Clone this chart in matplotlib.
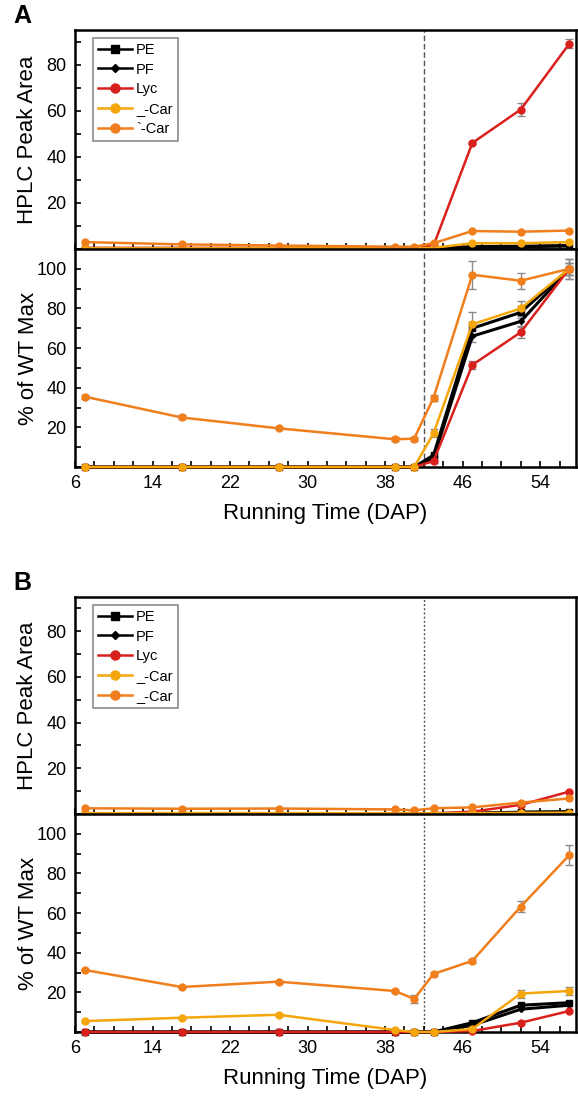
import numpy as np
import matplotlib.pyplot as plt
from matplotlib.ticker import MultipleLocator

plt.rcParams['font.family'] = ['Liberation Sans', 'DejaVu Sans']

# sampling days (DAP)
days = [7, 17, 27, 39, 41, 43, 47, 52, 57]
names = ['PE', 'PF', 'Lyc', '_-Car', '`-Car']
names_b = ['PE', 'PF', 'Lyc', '_-Car', '_-Car']

# panel A, HPLC peak area
a_pe = [0.2, 0.2, 0.2, 0.2, 0.2, 0.3, 1.0, 1.2, 1.5]
a_pf = [0.2, 0.2, 0.2, 0.2, 0.2, 0.3, 0.8, 1.0, 1.3]
a_lyc = [0.5, 0.5, 0.5, 0.5, 0.5, 1.5, 46, 60.5, 89]
a_zcar = [0.3, 0.3, 0.3, 0.3, 0.3, 0.5, 2.5, 2.5, 3.0]
a_bcar = [3.0, 2.0, 1.5, 1.0, 1.0, 2.5, 7.8, 7.5, 8.0]
a_lyc_err = [0, 0, 0, 0, 0, 0, 0.5, 3, 2]

# panel A, % of WT max
a_pe_pct = [0, 0, 0, 0, 0, 6, 70, 78, 100]
a_pf_pct = [0, 0, 0, 0, 0, 4.5, 66, 73.5, 100]
a_lyc_pct = [0, 0, 0, 0, 0, 3, 51.5, 68, 100]
a_zcar_pct = [0, 0, 0, 0, 0, 17, 72, 80, 100]
a_bcar_pct = [35.5, 25, 19.5, 14, 14.3, 35, 97, 94, 100]
a_pe_err = [0, 0, 0, 0, 0, 1, 3, 3, 3]
a_pf_err = [0, 0, 0, 0, 0, 1, 3, 3, 3]
a_lyc_pct_err = [0, 0, 0, 0, 0, 1, 2, 3, 5]
a_zcar_err = [0, 0, 0, 0, 0, 2, 6, 4, 3]
a_bcar_err = [1, 1, 0.5, 1, 1, 1.5, 7, 4, 5]

# panel B, HPLC peak area
b_pe = [0.2, 0.2, 0.2, 0.2, 0.2, 0.2, 0.3, 0.8, 1.0]
b_pf = [0.2, 0.2, 0.2, 0.2, 0.2, 0.2, 0.3, 0.7, 0.9]
b_lyc = [0.2, 0.2, 0.2, 0.2, 0.2, 0.3, 1.0, 4.0, 9.8]
b_zcar = [0.4, 0.4, 0.4, 0.3, 0.3, 0.3, 0.4, 0.5, 0.6]
b_bcar = [2.5, 2.3, 2.4, 2.0, 1.6, 2.5, 2.9, 5.0, 6.8]

# panel B, % of WT max
b_pe_pct = [0, 0, 0, 0, 0, 0, 4.7, 13.5, 14.8]
b_pf_pct = [0, 0, 0, 0, 0, 0, 3.4, 11.5, 13.5]
b_lyc_pct = [0, 0, 0, 0, 0, 0, 0.5, 4.7, 10.6]
b_zcar_pct = [5.5, 7.2, 8.7, 1, 0, 0, 1.5, 19.4, 20.7]
b_bcar_pct = [31.3, 22.7, 25.4, 20.7, 16.7, 29.3, 35.9, 63.3, 89.2]
b_zcar_err = [0.5, 0.5, 0.5, 0.3, 0.3, 0.3, 0.5, 2, 2]
b_bcar_err = [0.5, 0.5, 0.5, 0.5, 2, 1, 1, 3, 5]

colors = ['black', 'black', '#d9201c', '#f5a60a', '#f07e1c']
markers = ['s', 'D', 'o', 'o', 'o']
msizes = [4, 3, 5, 5, 5]
widths = [2.2, 2.2, 1.8, 1.8, 1.8]

W, H = 578, 1104
fig = plt.figure(figsize=(W / 100, H / 100), dpi=100)


def make_ax(top, bottom):
    return fig.add_axes([75 / W, 1 - bottom / H, 501 / W, (bottom - top) / H])


def style(ax, ymax, show_x):
    ax.set_xlim(6, 57.7)
    ax.set_ylim(0, ymax)
    ax.xaxis.set_major_locator(MultipleLocator(8))
    ax.xaxis.set_minor_locator(MultipleLocator(2))
    ax.yaxis.set_major_locator(MultipleLocator(20))
    ax.yaxis.set_minor_locator(MultipleLocator(10))
    ax.tick_params(which='both', direction='in', length=4, width=1.2,
                   labelsize=13, pad=6, top=False, right=False)
    ax.set_yticks([20, 40, 60, 80] + ([100] if ymax > 100 else []))
    ax.set_xticks([6, 14, 22, 30, 38, 46, 54])
    if not show_x:
        ax.tick_params(axis='x', labelbottom=False)
    for s in ax.spines.values():
        s.set_linewidth(1.8)


def draw(ax, series, errs):
    for i, y in enumerate(series):
        e = errs[i]
        if e is not None:
            ax.errorbar(days, y, yerr=e, fmt='none', ecolor='#8a8a8a',
                        elinewidth=1, capsize=3, capthick=1, zorder=2, clip_on=False)
        ax.plot(days, y, color=colors[i], marker=markers[i], ms=msizes[i],
                lw=widths[i], zorder=3 + i, clip_on=False)


def legend(ax, labels):
    handles = [plt.Line2D([], [], color=colors[i], marker=markers[i],
                          ms=msizes[i] + 1.5, lw=1.8) for i in range(5)]
    leg = ax.legend(handles, labels, loc='upper left', fontsize=10.5,
                    frameon=True, fancybox=False, edgecolor='#707070',
                    handlelength=2.3, handletextpad=0.3, labelspacing=0.4,
                    borderpad=0.35, borderaxespad=0,
                    bbox_to_anchor=(0.036, 0.965))
    leg.get_frame().set_linewidth(1.2)


panels = [
    (30, 249, 467, [a_pe, a_pf, a_lyc, a_zcar, a_bcar],
     [None, None, a_lyc_err, None, None],
     [a_pe_pct, a_pf_pct, a_lyc_pct, a_zcar_pct, a_bcar_pct],
     [a_pe_err, a_pf_err, a_lyc_pct_err, a_zcar_err, a_bcar_err],
     'A', names, (0, (4, 2))),
    (597, 814, 1032, [b_pe, b_pf, b_lyc, b_zcar, b_bcar],
     [None, None, None, None, None],
     [b_pe_pct, b_pf_pct, b_lyc_pct, b_zcar_pct, b_bcar_pct],
     [None, None, None, b_zcar_err, b_bcar_err],
     'B', names_b, (0, (1.5, 1.5))),
]

for top, mid, bot, area, area_err, pct, pct_err, letter, labels, ls in panels:
    ax1 = make_ax(top, mid)
    ax2 = make_ax(mid, bot)
    style(ax1, 95, False)
    style(ax2, 110, True)
    draw(ax1, area, area_err)
    draw(ax2, pct, pct_err)
    for ax in (ax1, ax2):
        ax.axvline(42, color='#555555', lw=1, ls=ls, zorder=1)
    legend(ax1, labels)
    fig.text(28 / W, 1 - (top + mid) / 2 / H, 'HPLC Peak Area', rotation=90,
             ha='center', va='center', fontsize=16)
    fig.text(28 / W, 1 - (mid + bot) / 2 / H, '% of WT Max', rotation=90,
             ha='center', va='center', fontsize=16)
    ax2.set_xlabel('Running Time (DAP)', fontsize=16, labelpad=8)
    fig.text(22 / W, 1 - (top - 14) / H, letter, fontsize=18,
             fontweight='bold', ha='center', va='center')

fig.savefig('out.png', dpi=100)
